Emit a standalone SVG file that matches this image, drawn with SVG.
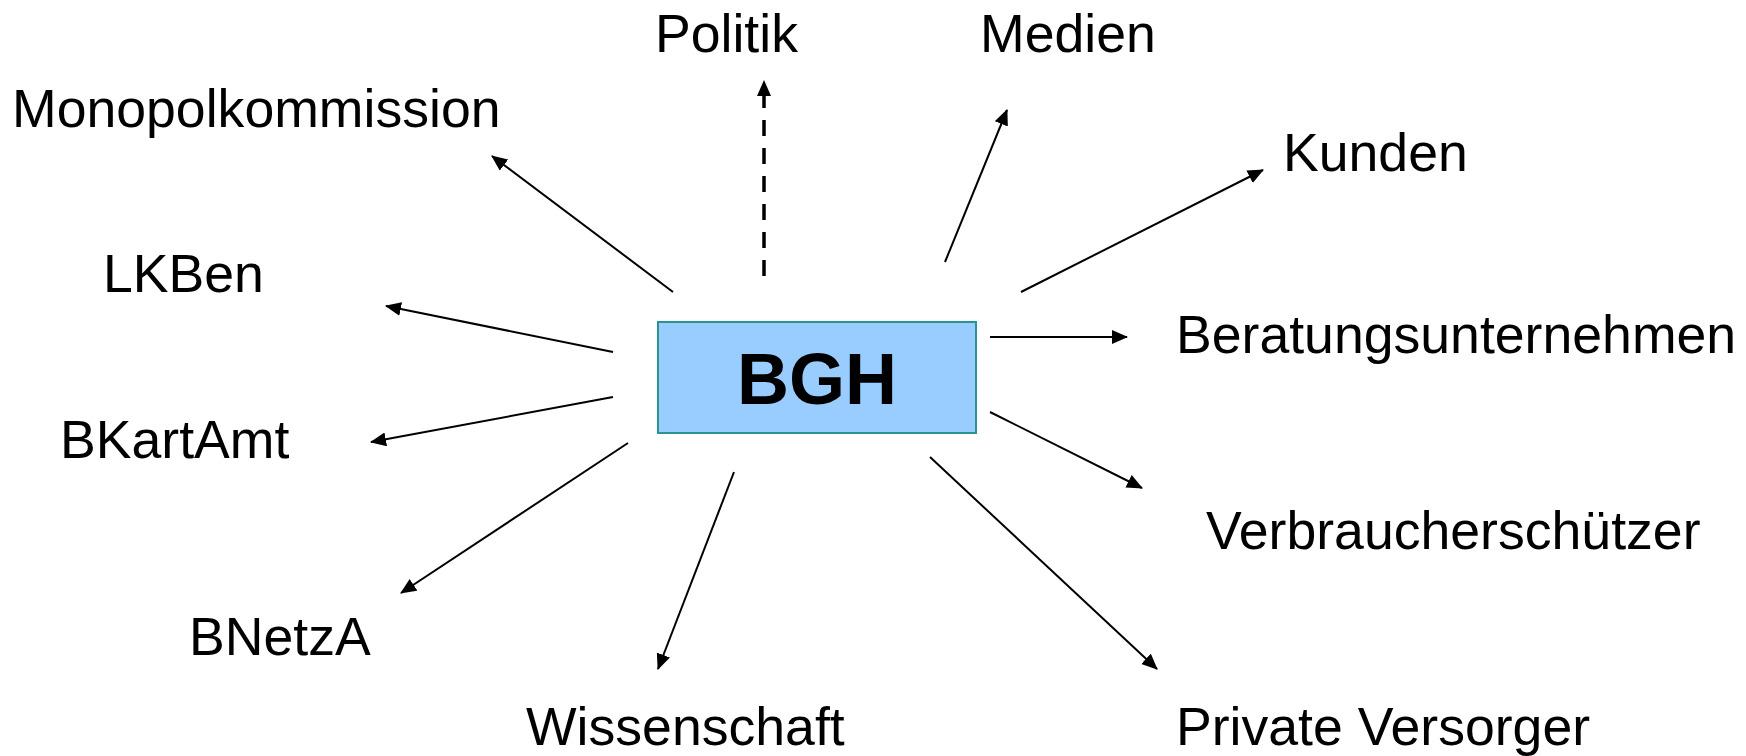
<svg xmlns="http://www.w3.org/2000/svg" width="1746" height="756" viewBox="0 0 1746 756">
<style>
.lbl{font-family:"Liberation Sans",Arial,sans-serif;font-size:53.6px;fill:#000}
.main{font-family:"Liberation Sans",Arial,sans-serif;font-size:72px;font-weight:bold;fill:#000;text-anchor:middle}
.c{stroke:#000;stroke-width:2;fill:none;marker-end:url(#ah)}
.d{stroke:#000;stroke-width:3.5;fill:none;stroke-dasharray:16 12;marker-end:url(#ah)}
</style>
<defs>
<marker id="ah" markerUnits="userSpaceOnUse" markerWidth="18" markerHeight="16" refX="15" refY="7" orient="auto">
<path d="M0,0 L16,7 L0,14 Z" fill="#000"/>
</marker>
</defs>
<rect width="1746" height="756" fill="#fff"/>
<g id="connectors">
<line class="c" x1="673" y1="292" x2="492" y2="156"/>
<line class="d" x1="764" y1="276" x2="764" y2="81"/>
<line class="c" x1="945" y1="262" x2="1007" y2="110"/>
<line class="c" x1="1021" y1="292" x2="1263" y2="170"/>
<line class="c" x1="990" y1="337" x2="1127" y2="337"/>
<line class="c" x1="990" y1="412" x2="1142" y2="488"/>
<line class="c" x1="930" y1="457" x2="1157" y2="669"/>
<line class="c" x1="734" y1="472" x2="658" y2="669"/>
<line class="c" x1="628" y1="443" x2="401" y2="593"/>
<line class="c" x1="613" y1="397" x2="371" y2="442"/>
<line class="c" x1="613" y1="352" x2="386" y2="306"/>
</g>
<g id="node-bgh">
<rect x="658" y="322" width="318" height="111" fill="#99ccff" stroke="#2a9393" stroke-width="2"/>
<text class="main" x="817" y="404">BGH</text>
</g>
<g id="node-politik"><text class="lbl" x="655" y="52">Politik</text></g>
<g id="node-medien"><text class="lbl" x="980" y="52">Medien</text></g>
<g id="node-monopolkommission"><text class="lbl" x="12" y="127">Monopolkommission</text></g>
<g id="node-kunden"><text class="lbl" x="1283" y="171">Kunden</text></g>
<g id="node-lkben"><text class="lbl" x="103" y="292">LKBen</text></g>
<g id="node-beratung"><text class="lbl" x="1176" y="353">Beratungsunternehmen</text></g>
<g id="node-bkartamt"><text class="lbl" x="60" y="458">BKartAmt</text></g>
<g id="node-verbraucher"><text class="lbl" x="1206" y="549">Verbraucherschützer</text></g>
<g id="node-bnetza"><text class="lbl" x="189" y="655">BNetzA</text></g>
<g id="node-wissenschaft"><text class="lbl" x="526" y="745">Wissenschaft</text></g>
<g id="node-private"><text class="lbl" x="1176" y="745">Private Versorger</text></g>
</svg>
